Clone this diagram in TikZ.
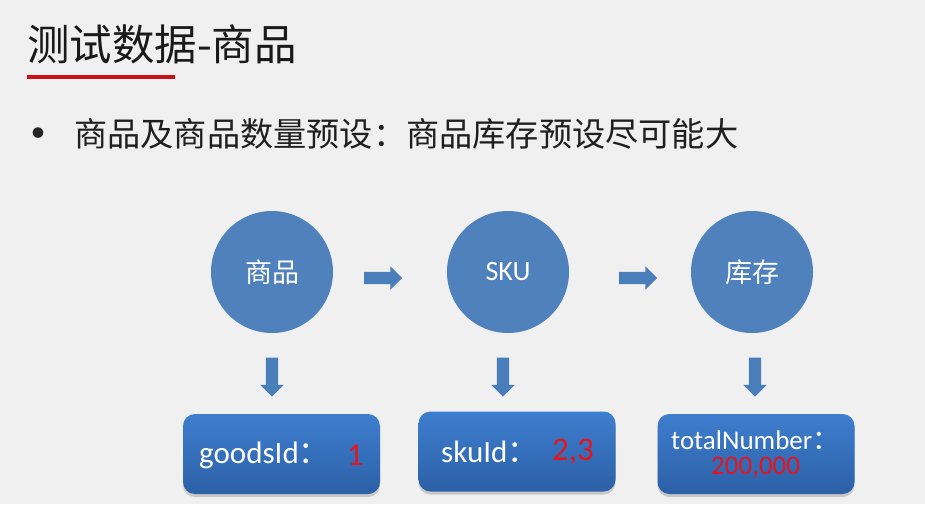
\documentclass[tikz,border=0pt]{standalone}
\usepackage{fontspec}
\setmainfont{Carlito}
\newfontfamily\cjk{Noto Sans CJK SC}
\usetikzlibrary{shapes.arrows,shadows}
\definecolor{bgc}{RGB}{240,240,240}
\definecolor{circfill}{RGB}{79,129,189}
\definecolor{arrowc}{RGB}{74,126,187}
\definecolor{boxtop}{RGB}{62,126,207}
\definecolor{boxbot}{RGB}{44,96,166}
\definecolor{redline}{RGB}{200,16,22}
\definecolor{numred}{RGB}{230,20,30}
\tikzset{
  circnode/.style={circle, fill=circfill, minimum size=122pt, inner sep=0pt, text=white, font=\fontsize{28}{30}\selectfont},
  boxnode/.style={rounded corners=12pt, top color=boxtop, bottom color=boxbot, minimum width=197pt, minimum height=80pt, inner sep=0pt, text=white,
    drop shadow={opacity=0.35, shadow xshift=0pt, shadow yshift=-3pt}},
  harrow/.style={single arrow, fill=arrowc, inner sep=6pt, text height=0pt, text depth=0pt, text width=0pt,
    single arrow head extend=5.5pt, minimum height=38pt},
  varrow/.style={harrow, shape border rotate=270},
  numtxt/.style={text=numred},
}
\begin{document}
\begin{tikzpicture}[x=1pt,y=-1pt]
\useasboundingbox[fill=bgc] (0,0) rectangle (925,504);
% title
\node[anchor=west, inner sep=0pt, text=black!90, font=\cjk\fontsize{42.5}{45}\selectfont] (title) at (27,44) {测试数据-商品};
\fill[redline] (27,75) rectangle (175,79);
% bullet
\node[inner sep=0pt, font=\fontsize{30}{32}\selectfont, text=black!85] (bul) at (38,135) {\textbullet};
\node[anchor=west, inner sep=0pt, font=\cjk\fontsize{33.2}{35}\selectfont, text=black!88] (line) at (74,134) {商品及商品数量预设：商品库存预设尽可能大};
% circles
\node[circnode, font=\cjk\fontsize{27}{30}\selectfont] (c1) at (272,272) {商品};
\node[circnode] (c2) at (508,272) {SKU};
\node[circnode, font=\cjk\fontsize{27}{30}\selectfont] (c3) at (752,272) {库存};
% horizontal arrows
\node[harrow] (h1) at (380,278) {};
\node[harrow] (h2) at (635,278) {};
% vertical arrows
\node[varrow, minimum height=39pt] (v1) at (272,374) {};
\node[varrow, minimum height=39pt] (v2) at (503,374) {};
\node[varrow, minimum height=39pt] (v3) at (755,374) {};
% boxes
\node[boxnode] (b1) at (281.5,454) {};
\node[boxnode] (b2) at (517,451.5) {};
\node[boxnode] (b3) at (756,454) {};
\node[anchor=west, inner sep=0pt, text=white, font=\fontsize{31}{33}\selectfont] (t1) at (199,455) {goodsId{\cjk ：}};
\node[anchor=west, inner sep=0pt, numtxt, font=\fontsize{32}{33}\selectfont] (n1) at (347,455) {1};
\node[anchor=west, inner sep=0pt, text=white, font=\fontsize{31}{33}\selectfont] (t2) at (441,452) {skuId{\cjk ：}};
\node[anchor=west, inner sep=0pt, numtxt, font=\fontsize{33}{35}\selectfont] (n2) at (552,452) {2,3};
\node[anchor=west, inner sep=0pt, text=white, font=\fontsize{27}{29}\selectfont] (t3) at (671,440) {totalNumber{\cjk ：}};
\node[anchor=west, inner sep=0pt, numtxt, font=\fontsize{27}{29}\selectfont] (n3) at (711,467) {200,000};
\end{tikzpicture}
\end{document}
